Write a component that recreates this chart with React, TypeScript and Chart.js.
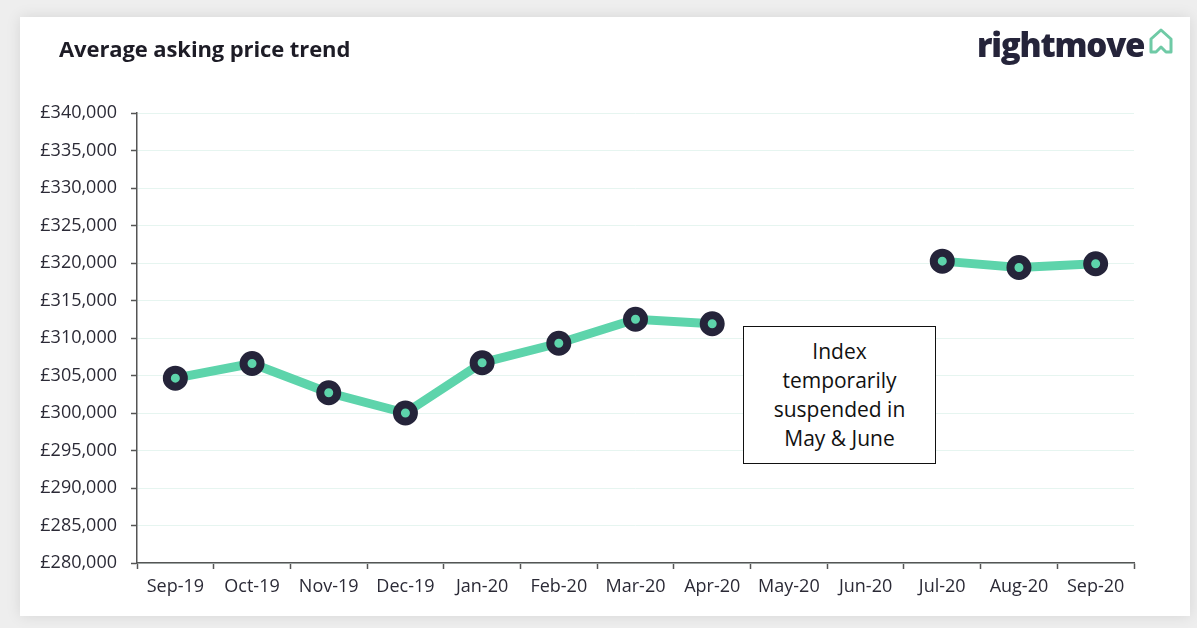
import React, { useEffect, useRef } from "react";
import { Chart, registerables } from "chart.js";

Chart.register(...registerables);

const months = ["Sep-19", "Oct-19", "Nov-19", "Dec-19", "Jan-20", "Feb-20", "Mar-20", "Apr-20", "May-20", "Jun-20", "Jul-20", "Aug-20", "Sep-20"];
const askingPrice: (number | null)[] = [304650, 306600, 302700, 300000, 306700, 309300, 312500, 311900, null, null, 320250, 319400, 319900];
const yMin = 280000;
const yMax = 340000;
const yStep = 5000;

const FONT = "'Open Sans', 'Noto Sans', sans-serif";
const TEXT = "#2b2a36";
const GREEN = "#5dd4ab";
const NAVY = "#25243a";

export default function App() {
  const ref = useRef<HTMLCanvasElement | null>(null);
  useEffect(() => {
    if (!ref.current) return;
    const chart = new Chart(ref.current, {
      type: "line",
      data: {
        labels: months,
        datasets: [
          {
            data: askingPrice,
            borderColor: GREEN,
            borderWidth: 9,
            spanGaps: false,
            pointRadius: 8.5,
            pointBorderWidth: 8,
            pointBackgroundColor: GREEN,
            pointBorderColor: NAVY,
            tension: 0,
          },
        ],
      },
      options: {
        animation: false,
        responsive: false,
        maintainAspectRatio: false,
        layout: { padding: { left: 0, right: 63, top: 113, bottom: 0 } },
        plugins: { legend: { display: false }, tooltip: { enabled: false } },
        scales: {
          x: {
            offset: true,
            afterFit: (s: any) => { s.height = 65; },
            grid: { display: true, drawOnChartArea: false, offset: true, tickLength: 6, tickColor: "#555", tickWidth: 1.5 },
            border: { color: "#555", width: 1.5 },
            ticks: { color: TEXT, font: { family: FONT, size: 18 }, padding: 7, maxRotation: 0, autoSkip: false },
          },
          y: {
            min: yMin,
            max: yMax,
            afterFit: (s: any) => { s.width = 137; },
            grid: { color: "#e6f5f0", lineWidth: 1, tickLength: 6, tickColor: "#555", tickWidth: 1.5 },
            border: { color: "#555", width: 1.5 },
            ticks: {
              stepSize: yStep,
              color: TEXT,
              padding: 14,
              font: { family: FONT, size: 18 },
              callback: (v: any) => "£" + Number(v).toLocaleString("en-GB"),
            },
          },
        },
      },
    });
    return () => chart.destroy();
  }, []);

  return (
    <div style={{ position: "fixed", left: 0, top: 0, width: 1197, height: 628, background: "#eeeeee", overflow: "hidden" }}>
      <div style={{ position: "absolute", left: 20, top: 17, width: 1170, height: 599, background: "#ffffff", boxShadow: "0 0 14px rgba(0,0,0,0.10)" }} />
      <canvas ref={ref} width={1197} height={628} style={{ position: "absolute", left: 0, top: 0, width: 1197, height: 628 }} />
      <div style={{ position: "absolute", left: 59, top: 33, fontFamily: FONT, fontWeight: 700, fontSize: 22, letterSpacing: -0.1, color: "#1d1c26", whiteSpace: "nowrap" }}>
        Average asking price trend
      </div>
      <div style={{ position: "absolute", left: 977, top: 22, fontFamily: FONT, fontWeight: 800, fontSize: 33, color: NAVY, whiteSpace: "nowrap", letterSpacing: -1.2 }}>
        rightmove
      </div>
      <svg style={{ position: "absolute", left: 1147, top: 27 }} width={28} height={28} viewBox="0 0 28 28">
        <path d="M4 25 L4 12 L14 3 L24 12 L24 25 L19 25 L14 20 L9 25 Z" fill="none" stroke="#6fcaa6" strokeWidth={3} strokeLinejoin="round" />
      </svg>
      <div style={{ position: "absolute", left: 743, top: 326, width: 191, height: 136, border: "1.5px solid #111", background: "#fff", display: "flex", alignItems: "center", justifyContent: "center", textAlign: "center", fontFamily: FONT, fontSize: 21, lineHeight: "29px", color: "#111" }}>
        <div>Index<br />temporarily<br />suspended in<br />May &amp; June</div>
      </div>
    </div>
  );
}
